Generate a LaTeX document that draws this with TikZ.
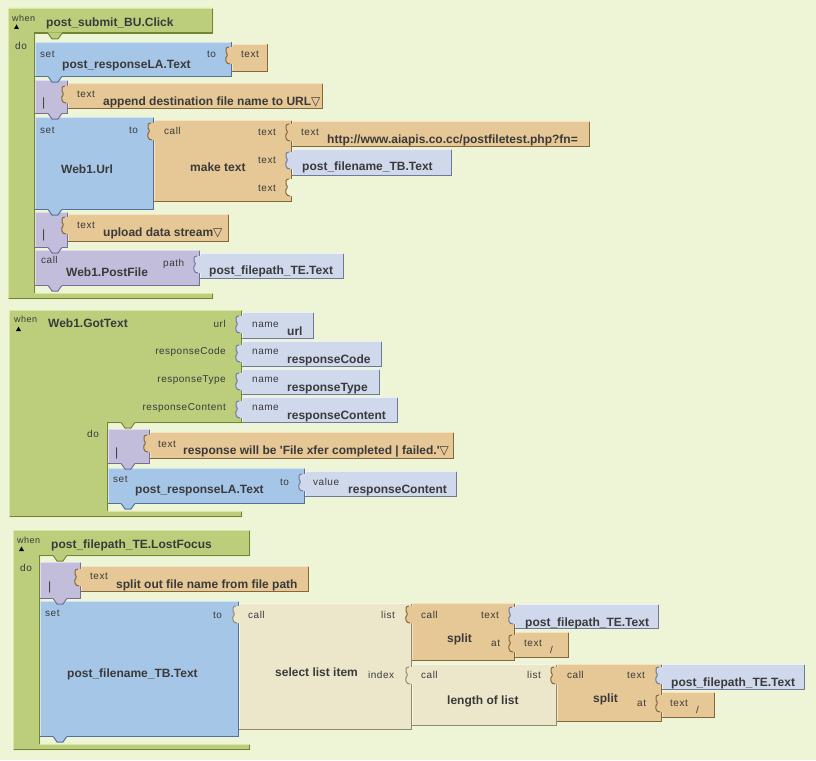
\documentclass[tikz,border=0pt]{standalone}
\usepackage{fontspec}
\setmainfont{Liberation Sans}
\newfontfamily\lblfont[LetterSpace=5]{Liberation Sans}
\newfontfamily\bdfont{Liberation Sans}
\newfontfamily\symfont{DejaVu Sans}
\definecolor{bgc}{HTML}{EEF5D6}
\definecolor{gr}{HTML}{BCCE7C}\definecolor{grL}{HTML}{D9E7A6}\definecolor{grD}{HTML}{718535}
\definecolor{bl}{HTML}{A6C6E8}\definecolor{blL}{HTML}{CFE2F6}\definecolor{blD}{HTML}{53729A}
\definecolor{pu}{HTML}{C2BDDB}\definecolor{puL}{HTML}{E0DCF0}\definecolor{puD}{HTML}{756D95}
\definecolor{tn}{HTML}{E6C796}\definecolor{tnL}{HTML}{F6E2BE}\definecolor{tnD}{HTML}{86673C}
\definecolor{gt}{HTML}{D0D8EC}\definecolor{gtL}{HTML}{ECF0F9}\definecolor{gtD}{HTML}{6F799A}
\definecolor{be}{HTML}{ECE7CA}\definecolor{beL}{HTML}{F8F5E5}\definecolor{beD}{HTML}{8F8B70}
\definecolor{ctxt}{HTML}{3A3A3A}
\newcommand\tri{{\symfont\fontsize{12}{12}\selectfont ▽}}
\newcommand\blk[5]{%
  \fill[#1] (#2,#3) rectangle (#4,#5);
  \draw[#1L,line width=1.2pt] (#2+0.6,#5-1) -- (#2+0.6,#3+0.6) -- (#4-1,#3+0.6);
  \draw[#1D,line width=1.5pt] (#2,#5-0.75) -- (#4-0.75,#5-0.75) -- (#4-0.75,#3+0.5);
}
\newcommand\tabp[3]{%
  \fill[#1] (#2+1,#3) -- (#2-3,#3) .. controls (#2-6,#3) and (#2-7,#3+3) .. (#2-6,#3+5)
    .. controls (#2-5,#3+7) and (#2-4,#3+8) .. (#2-5,#3+9)
    .. controls (#2-6,#3+10) and (#2-7,#3+12) .. (#2-6,#3+14)
    .. controls (#2-5,#3+16) and (#2-5,#3+17) .. (#2-2,#3+17) -- (#2+1,#3+17) -- cycle;
  \draw[#1D,line width=1pt] (#2-3,#3) .. controls (#2-6,#3) and (#2-7,#3+3) .. (#2-6,#3+5)
    .. controls (#2-5,#3+7) and (#2-4,#3+8) .. (#2-5,#3+9)
    .. controls (#2-6,#3+10) and (#2-7,#3+12) .. (#2-6,#3+14)
    .. controls (#2-5,#3+16) and (#2-5,#3+17) .. (#2-2,#3+17);
}
\newcommand\sock[3]{%
  \fill[bgc] (#2+1,#3) -- (#2-3,#3) .. controls (#2-6,#3) and (#2-7,#3+3) .. (#2-6,#3+5)
    .. controls (#2-5,#3+7) and (#2-4,#3+8) .. (#2-5,#3+9)
    .. controls (#2-6,#3+10) and (#2-7,#3+12) .. (#2-6,#3+14)
    .. controls (#2-5,#3+16) and (#2-5,#3+17) .. (#2-2,#3+17) -- (#2+1,#3+17) -- cycle;
  \draw[#1D,line width=1pt] (#2-3,#3) .. controls (#2-6,#3) and (#2-7,#3+3) .. (#2-6,#3+5)
    .. controls (#2-5,#3+7) and (#2-4,#3+8) .. (#2-5,#3+9)
    .. controls (#2-6,#3+10) and (#2-7,#3+12) .. (#2-6,#3+14)
    .. controls (#2-5,#3+16) and (#2-5,#3+17) .. (#2-2,#3+17);
}
\newcommand\bmp[3]{%
  \fill[#1] (#2,#3-1.5) -- (#2+4,#3+5) -- (#2+10,#3+5) -- (#2+14,#3-1.5) -- cycle;
  \draw[#1D,line width=1pt] (#2+0.5,#3) -- (#2+4,#3+5) -- (#2+10,#3+5) -- (#2+13.5,#3);
}
\newcommand\evt[6]{%
  \fill[gr] (#1,#2) -- (#3,#2) -- (#3,#4) -- (#5,#4) -- (#5,#6) -- (#3,#6) -- (#3,#6+6) -- (#1,#6+6) -- cycle;
  \draw[grL,line width=1.2pt] (#1+0.6,#6+5) -- (#1+0.6,#2+0.6) -- (#3-1,#2+0.6);
  \draw[grL,line width=1.2pt] (#5,#6+0.6) -- (#3-1,#6+0.6);
  \draw[grD,line width=1.5pt] (#3-0.75,#2+1) -- (#3-0.75,#4-0.75) -- (#5-0.75,#4-0.75) -- (#5-0.75,#6);
  \draw[grD,line width=1.5pt] (#3-0.75,#6+1) -- (#3-0.75,#6+5.25) -- (#1+1,#6+5.25);
}
\tikzset{
  lb/.style={font=\lblfont\fontsize{10}{12}\selectfont, text=ctxt, inner sep=0pt, anchor=base west},
  lbr/.style={lb, anchor=base east},
  wh/.style={lb, font=\lblfont\fontsize{9}{10}\selectfont},
  bd/.style={font=\bdfont\fontsize{12}{14}\selectfont\bfseries, text=ctxt, inner sep=0pt, anchor=base west},
  bar/.style={font=\fontsize{12}{14}\selectfont, text=ctxt, inner sep=0pt, anchor=base west},
}
\begin{document}
\begin{tikzpicture}[x=1pt,y=-1pt]
\fill[bgc] (0,0) rectangle (816,760);
\useasboundingbox (0,0) rectangle (816,760);
% ---------- block 1
\evt{8}{8}{213}{34}{35}{293}
\blk{bl}{35}{42}{232}{77}
\blk{tn}{232}{44}{268}{72}\tabp{tn}{232}{47}
\blk{pu}{35}{80}{68}{114}
\blk{tn}{68}{83}{323}{109}\tabp{tn}{68}{86}
\blk{bl}{35}{117}{154}{210}
\blk{tn}{154}{120}{292}{202}\tabp{tn}{154}{123}
\blk{tn}{292}{121}{590}{147}\tabp{tn}{292}{124}
\blk{gt}{292}{149}{452}{176}\tabp{gt}{292}{152}
\sock{tn}{292}{179}
\blk{pu}{35}{212}{68}{248}
\blk{tn}{68}{214}{229}{242}\tabp{tn}{68}{217}
\blk{pu}{35}{250}{200}{286}
\blk{gt}{200}{253}{344}{279}\tabp{gt}{200}{256}
% ---------- block 2
\evt{9}{310}{242}{423}{108}{511}
\blk{gt}{242}{312}{314}{339}\tabp{gt}{242}{316}
\blk{gt}{242}{341}{382}{367}\tabp{gt}{242}{345}
\blk{gt}{242}{369}{380}{395}\tabp{gt}{242}{373}
\blk{gt}{242}{397}{398}{423}\tabp{gt}{242}{401}
\blk{pu}{108}{429}{150}{464}
\blk{tn}{150}{432}{454}{459}\tabp{tn}{150}{435}
\blk{bl}{108}{468}{305}{504}
\blk{gt}{305}{471}{457}{497}\tabp{gt}{305}{474}
% ---------- block 3
\evt{13}{530}{250}{556}{40}{744}
\blk{pu}{40}{562}{81}{599}
\blk{tn}{81}{566}{309}{592}\tabp{tn}{81}{569}
\blk{bl}{40}{601}{239}{737}
\blk{be}{239}{603}{412}{730}\tabp{be}{239}{606}
\blk{tn}{412}{603}{515}{661}\tabp{tn}{412}{606}
\blk{gt}{515}{604}{659}{629}\tabp{gt}{515}{607}
\blk{tn}{515}{632}{569}{658}\tabp{tn}{515}{635}
\blk{be}{412}{664}{557}{726}\tabp{be}{412}{667}
\blk{tn}{557}{664}{662}{722}\tabp{tn}{557}{667}
\blk{gt}{662}{664}{805}{690}\tabp{gt}{662}{667}
\blk{tn}{662}{692}{715}{718}\tabp{tn}{662}{695}
% ---------- bumps
\bmp{gr}{48}{34}\bmp{bl}{48}{77}\bmp{pu}{48}{114}\bmp{bl}{48}{210}\bmp{pu}{48}{248}\bmp{pu}{48}{286}
\bmp{gr}{121}{423}\bmp{pu}{121}{464}\bmp{bl}{121}{504}
\bmp{gr}{53}{556}\bmp{pu}{53}{599}\bmp{bl}{53}{737}
% ---------- triangles
\fill[black] (14,29) -- (16.5,24.5) -- (19,29) -- cycle;
\fill[black] (16,331) -- (18.5,326.5) -- (21,331) -- cycle;
\fill[black] (19,551) -- (21.5,546.5) -- (24,551) -- cycle;
% ---------- texts block 1
\node[wh] (w1) at (12,22) {when};
\node[bd] (e1) at (46,27) {post\_submit\_BU.Click};
\node[lb] (do1) at (15,49) {do};
\node[lb] (s1) at (40,57) {set};
\node[bd] (s1n) at (62,68) {post\_responseLA.Text};
\node[lb] (s1t) at (207,58) {to};
\node[lb] (tx1) at (241,58) {text};
\node[bar] (c1b) at (42,106) {|};
\node[lb] (c1l) at (77,97) {text};
\node[bd] (c1t) at (103,105) {append destination file name to URL\tri};
\node[lb] (s2) at (40,133) {set};
\node[lb] (s2t) at (129,133) {to};
\node[bd] (s2n) at (61,173) {Web1.Url};
\node[lb] (mt0) at (164,134) {call};
\node[bd] (mtn) at (190,171) {make text};
\node[lb] (mt1) at (258,135) {text};
\node[lb] (mt2) at (258,163) {text};
\node[lb] (mt3) at (258,191) {text};
\node[lb] (u0) at (301,135) {text};
\node[bd] (u1) at (327,143) {http://www.aiapis.co.cc/postfiletest.php?fn=};
\node[bd] (g1) at (302,170) {post\_filename\_TB.Text};
\node[bar] (c2b) at (42,238) {|};
\node[lb] (c2l) at (77,228) {text};
\node[bd] (c2t) at (103,236) {upload data stream\tri};
\node[lb] (p0) at (41,263) {call};
\node[bd] (p1) at (66,276) {Web1.PostFile};
\node[lb] (p2) at (163,266) {path};
\node[bd] (p3) at (209,274) {post\_filepath\_TE.Text};
% ---------- texts block 2
\node[wh] (w2) at (14,322) {when};
\node[bd] (e2) at (48,327) {Web1.GotText};
\node[lbr] (a1) at (226,327) {url};
\node[lbr] (a2) at (226,354) {responseCode};
\node[lbr] (a3) at (226,382) {responseType};
\node[lbr] (a4) at (226,410) {responseContent};
\node[lb] (n1) at (252,327) {name};
\node[lb] (n2) at (252,354) {name};
\node[lb] (n3) at (252,382) {name};
\node[lb] (n4) at (252,410) {name};
\node[bd] (m1) at (287,335) {url};
\node[bd] (m2) at (287,363) {responseCode};
\node[bd] (m3) at (287,391) {responseType};
\node[bd] (m4) at (287,419) {responseContent};
\node[lb] (do2) at (87,437) {do};
\node[bar] (c3b) at (115,456) {|};
\node[lb] (c3l) at (158,447) {text};
\node[bd] (c3t) at (183,454) {response will be 'File xfer completed | failed.'\tri};
\node[lb] (s3) at (113,482) {set};
\node[bd] (s3n) at (135,493) {post\_responseLA.Text};
\node[lb] (s3t) at (280,485) {to};
\node[lb] (v0) at (313,485) {value};
\node[bd] (v1) at (348,493) {responseContent};
% ---------- texts block 3
\node[wh] (w3) at (17,543) {when};
\node[bd] (e3) at (51,548) {post\_filepath\_TE.LostFocus};
\node[lb] (do3) at (20,571) {do};
\node[bar] (c4b) at (48,590) {|};
\node[lb] (c4l) at (90,579) {text};
\node[bd] (c4t) at (116,588) {split out file name from file path};
\node[lb] (s4) at (45,616) {set};
\node[lb] (s4t) at (213,618) {to};
\node[bd] (s4n) at (67,677) {post\_filename\_TB.Text};
\node[lb] (sl0) at (248,618) {call};
\node[bd] (sl1) at (275,676) {select list item};
\node[lbr] (sl2) at (395,618) {list};
\node[lb] (sl3) at (368,678) {index};
\node[lb] (sp0) at (421,618) {call};
\node[bd] (sp1) at (447,642) {split};
\node[lb] (sp2) at (481,618) {text};
\node[lb] (sp3) at (491,646) {at};
\node[bd] (g2) at (525,626) {post\_filepath\_TE.Text};
\node[lb] (sl4) at (524,646) {text};
\node[lb] (sl5) at (550,653) {/};
\node[lb] (ln0) at (421,678) {call};
\node[bd] (ln1) at (447,704) {length of list};
\node[lb] (ln2) at (527,678) {list};
\node[lb] (sq0) at (567,678) {call};
\node[bd] (sq1) at (593,702) {split};
\node[lb] (sq2) at (627,678) {text};
\node[lb] (sq3) at (637,706) {at};
\node[bd] (g3) at (671,686) {post\_filepath\_TE.Text};
\node[lb] (sq4) at (670,706) {text};
\node[lb] (sq5) at (696,713) {/};
\end{tikzpicture}
\end{document}
